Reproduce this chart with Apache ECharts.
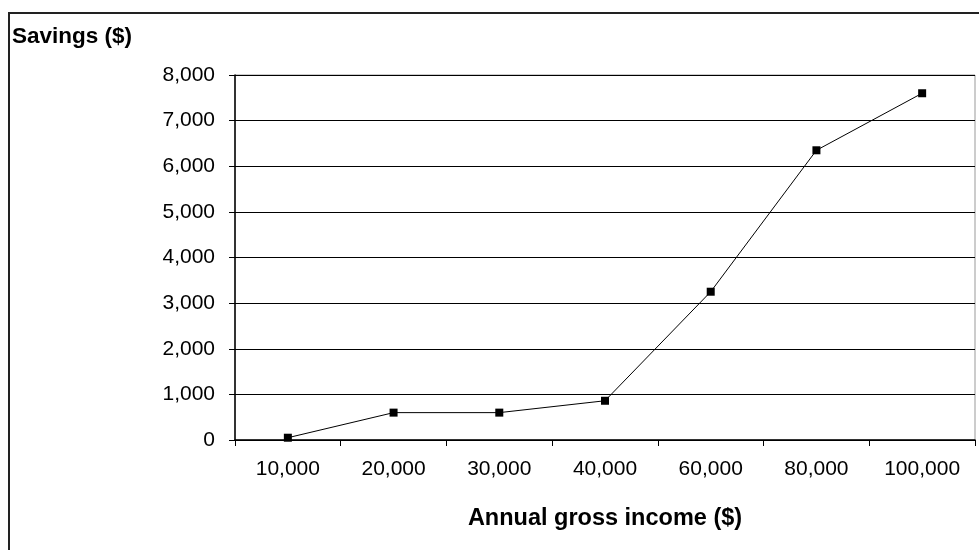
<!DOCTYPE html>
<html>
<head>
<meta charset="utf-8">
<script src="https://cdn.jsdelivr.net/npm/echarts@6/dist/echarts.min.js"></script>
<style>
  html, body { margin: 0; padding: 0; background: #fff; }
  #frame { position: absolute; left: 8px; top: 12px; width: 971px; height: 538px;
           border-left: 2px solid #222; border-top: 2px solid #222; box-sizing: border-box; }
  #chart { position: absolute; left: 0; top: 0; width: 979px; height: 550px; }
</style>
</head>
<body>
<div id="frame"></div>
<div id="chart"></div>
<script>
var incomes = ['10,000', '20,000', '30,000', '40,000', '60,000', '80,000', '100,000'];
var savings = [50, 600, 600, 860, 3250, 6350, 7600];
var yTicks = { min: 0, max: 8000, step: 1000 };

var dom = document.getElementById('chart');
var myChart = echarts.init(dom);
var font = 'Arial, "Liberation Sans", sans-serif';

var option = {
    animation: false,
    backgroundColor: 'transparent',
    title: {
        text: 'Savings ($)',
        left: 7,
        top: 20,
        textStyle: { fontFamily: font, fontSize: 22.5, fontWeight: 'bold', color: '#000' }
    },
    grid: {
        left: 235,
        top: 75,
        right: 4,
        bottom: 110,
        show: true,
        borderColor: '#999',
        borderWidth: 1
    },
    xAxis: {
        type: 'category',
        data: incomes,
        boundaryGap: true,
        name: 'Annual gross income ($)',
        nameLocation: 'middle',
        nameGap: 67,
        nameTextStyle: { fontFamily: font, fontSize: 23.5, fontWeight: 'bold', color: '#000' },
        axisLine: { lineStyle: { color: '#000', width: 1.5 } },
        axisTick: { show: true, length: 6, lineStyle: { color: '#000' } },
        axisLabel: { margin: 19, fontFamily: font, fontSize: 21, color: '#000' }
    },
    yAxis: {
        type: 'value',
        min: yTicks.min,
        max: yTicks.max,
        interval: yTicks.step,
        axisLine: { show: true, lineStyle: { color: '#000', width: 1.5 } },
        axisTick: { show: true, length: 6, lineStyle: { color: '#000' } },
        axisLabel: {
            margin: 20,
            fontFamily: font,
            fontSize: 21,
            color: '#000',
            formatter: function (v) { return v.toLocaleString('en-US'); }
        },
        splitLine: { show: true, lineStyle: { color: '#000', width: 1 } }
    },
    series: [{
        type: 'line',
        data: savings,
        symbol: 'rect',
        symbolSize: 8,
        itemStyle: { color: '#000' },
        lineStyle: { color: '#000', width: 1 }
    }]
};

myChart.setOption(option, true);
</script>
</body>
</html>
